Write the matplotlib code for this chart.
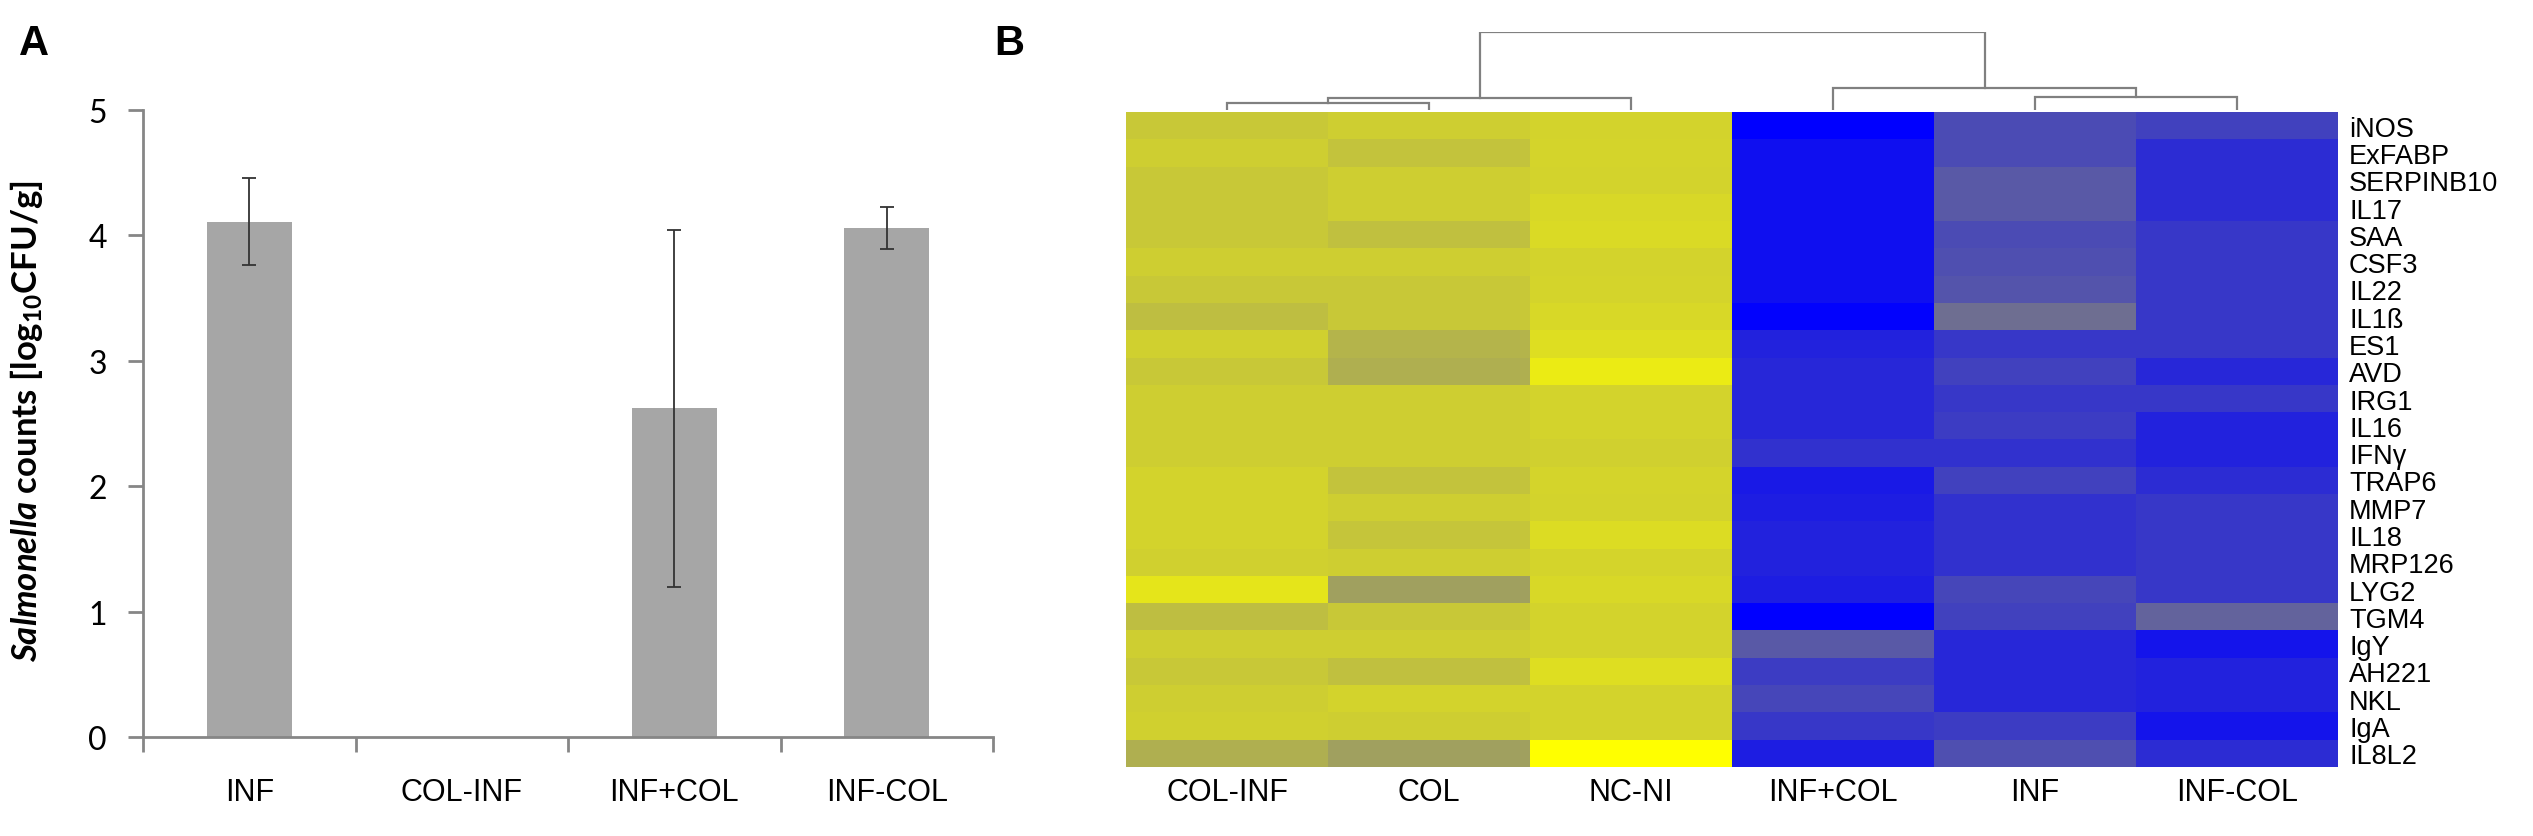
import numpy as np
import matplotlib
matplotlib.use("Agg")
import matplotlib.pyplot as plt
from matplotlib.colors import LinearSegmentedColormap

plt.rcParams['mathtext.fontset'] = 'custom'
plt.rcParams['mathtext.rm'] = 'Lato:bold'
plt.rcParams['mathtext.it'] = 'Lato:bold:italic'

# panel A: Salmonella counts
groups = ['INF', 'COL-INF', 'INF+COL', 'INF-COL']
counts = [4.11, 0.0, 2.62, 4.06]
errors = [0.35, 0.0, 1.42, 0.17]

# panel B: heatmap
columns = ['COL-INF', 'COL', 'NC-NI', 'INF+COL', 'INF', 'INF-COL']
genes = ['iNOS', 'ExFABP', 'SERPINB10', 'IL17', 'SAA', 'CSF3', 'IL22', 'IL1ß',
         'ES1', 'AVD', 'IRG1', 'IL16', 'IFNγ', 'TRAP6', 'MMP7', 'IL18',
         'MRP126', 'LYG2', 'TGM4', 'IgY', 'AH221', 'NKL', 'IgA', 'IL8L2']
expr = [
    [0.57, 0.61, 0.65, -1.00, -0.41, -0.49],
    [0.61, 0.53, 0.66, -0.88, -0.41, -0.65],
    [0.57, 0.61, 0.65, -0.88, -0.30, -0.65],
    [0.57, 0.61, 0.69, -0.88, -0.30, -0.65],
    [0.57, 0.50, 0.71, -0.88, -0.41, -0.57],
    [0.61, 0.61, 0.65, -0.88, -0.38, -0.57],
    [0.57, 0.57, 0.66, -0.88, -0.34, -0.57],
    [0.49, 0.57, 0.69, -0.98, -0.14, -0.57],
    [0.63, 0.41, 0.74, -0.73, -0.57, -0.57],
    [0.57, 0.37, 0.84, -0.69, -0.49, -0.69],
    [0.61, 0.61, 0.65, -0.69, -0.57, -0.57],
    [0.61, 0.61, 0.65, -0.69, -0.53, -0.73],
    [0.61, 0.61, 0.63, -0.61, -0.61, -0.73],
    [0.65, 0.53, 0.66, -0.80, -0.49, -0.65],
    [0.65, 0.61, 0.65, -0.77, -0.61, -0.57],
    [0.65, 0.54, 0.72, -0.73, -0.61, -0.57],
    [0.63, 0.61, 0.66, -0.73, -0.61, -0.57],
    [0.79, 0.25, 0.69, -0.77, -0.45, -0.57],
    [0.49, 0.57, 0.65, -1.00, -0.49, -0.22],
    [0.61, 0.61, 0.65, -0.30, -0.69, -0.84],
    [0.57, 0.50, 0.74, -0.53, -0.69, -0.73],
    [0.61, 0.65, 0.65, -0.45, -0.69, -0.73],
    [0.63, 0.61, 0.65, -0.57, -0.53, -0.84],
    [0.37, 0.25, 1.00, -0.77, -0.38, -0.65],
]

# column dendrogram merges: (left x, right x, height, left child h, right child h)
merges = [
    (0.5, 1.5, 7.0, 0.0, 0.0),     # COL-INF + COL
    (1.0, 2.5, 12.0, 7.0, 0.0),    # + NC-NI
    (4.5, 5.5, 13.4, 0.0, 0.0),    # INF + INF-COL
    (3.5, 5.0, 22.4, 0.0, 13.4),   # INF+COL + (INF, INF-COL)
    (1.75, 4.25, 78.0, 12.0, 22.4),
]

W, H = 2533, 837
fig = plt.figure(figsize=(W / 100, H / 100), dpi=100)

axis_grey = '#868686'

# ---- panel A
ax = fig.add_axes([143 / W, (H - 738) / H, 850 / W, 627 / H])
x = np.arange(len(groups)) + 0.5
ax.bar(x, counts, width=0.4, color='#a6a6a6', zorder=2)
ax.errorbar(x[[0, 2, 3]], np.array(counts)[[0, 2, 3]], yerr=np.array(errors)[[0, 2, 3]],
            fmt='none', ecolor='#333333', elinewidth=1.3, capsize=5, capthick=1.3, zorder=3)
ax.set_xlim(0, len(groups))
ax.set_ylim(0, 5)
ax.set_yticks(range(6))
ax.set_xticks(np.arange(len(groups) + 1))
ax.set_xticklabels([])
ax.set_xticks(x, minor=True)
ax.set_xticklabels(groups, minor=True, fontsize=22, family='Liberation Sans')
ax.tick_params(axis='x', which='minor', length=0, pad=29)
ax.tick_params(axis='x', which='major', length=11, width=2, color=axis_grey, direction='out')
ax.tick_params(axis='y', length=11, width=2, color=axis_grey, pad=15, labelsize=23)
for lab in ax.get_yticklabels():
    lab.set_family('Lato')
for s in ['top', 'right']:
    ax.spines[s].set_visible(False)
for s in ['left', 'bottom']:
    ax.spines[s].set_color(axis_grey)
    ax.spines[s].set_linewidth(2)
ax.set_ylabel(r'$\mathit{Salmonella}$ counts [log$_{10}$CFU/g]', fontsize=25,
              fontweight='bold', family='Lato')
ax.yaxis.set_label_coords(-0.115, 0.505)

# ---- panel B heatmap
cmap = LinearSegmentedColormap.from_list('by', ['#0000ff', '#808080', '#ffff00'])
hx, hy0, hw, hh = 1126 / W, (H - 768) / H, 1212 / W, 655 / H
hax = fig.add_axes([hx, hy0, hw, hh])
hax.imshow(np.array(expr), cmap=cmap, vmin=-1, vmax=1, aspect='auto',
           interpolation='nearest', extent=(0, len(columns), len(genes), 0))
hax.set_xticks(np.arange(len(columns)) + 0.5)
hax.set_xticklabels(columns, fontsize=22, family='Liberation Sans')
hax.set_yticks(np.arange(len(genes)) + 0.5)
hax.set_yticklabels(genes, fontsize=19.5, family='Liberation Sans')
hax.yaxis.tick_right()
hax.tick_params(length=0, pad=7)
hax.tick_params(axis='y', pad=8)
for s in hax.spines.values():
    s.set_visible(False)

# dendrogram on top
dax = fig.add_axes([hx, (H - 111) / H, hw, 78 / H])
for xl, xr, h, hl, hr in merges:
    dax.plot([xl, xl, xr, xr], [hl, h, h, hr], color='#808080', lw=1.6,
             solid_joinstyle='miter')
dax.set_xlim(0, len(columns))
dax.set_ylim(0, 78.5)
dax.axis('off')

fig.text(19 / W, 1 - 24 / H, 'A', fontsize=30, fontweight='bold',
         family='Liberation Sans', va='top', ha='left')
fig.text(994 / W, 1 - 24 / H, 'B', fontsize=30, fontweight='bold',
         family='Liberation Sans', va='top', ha='left')

fig.savefig('out.png', dpi=100)
